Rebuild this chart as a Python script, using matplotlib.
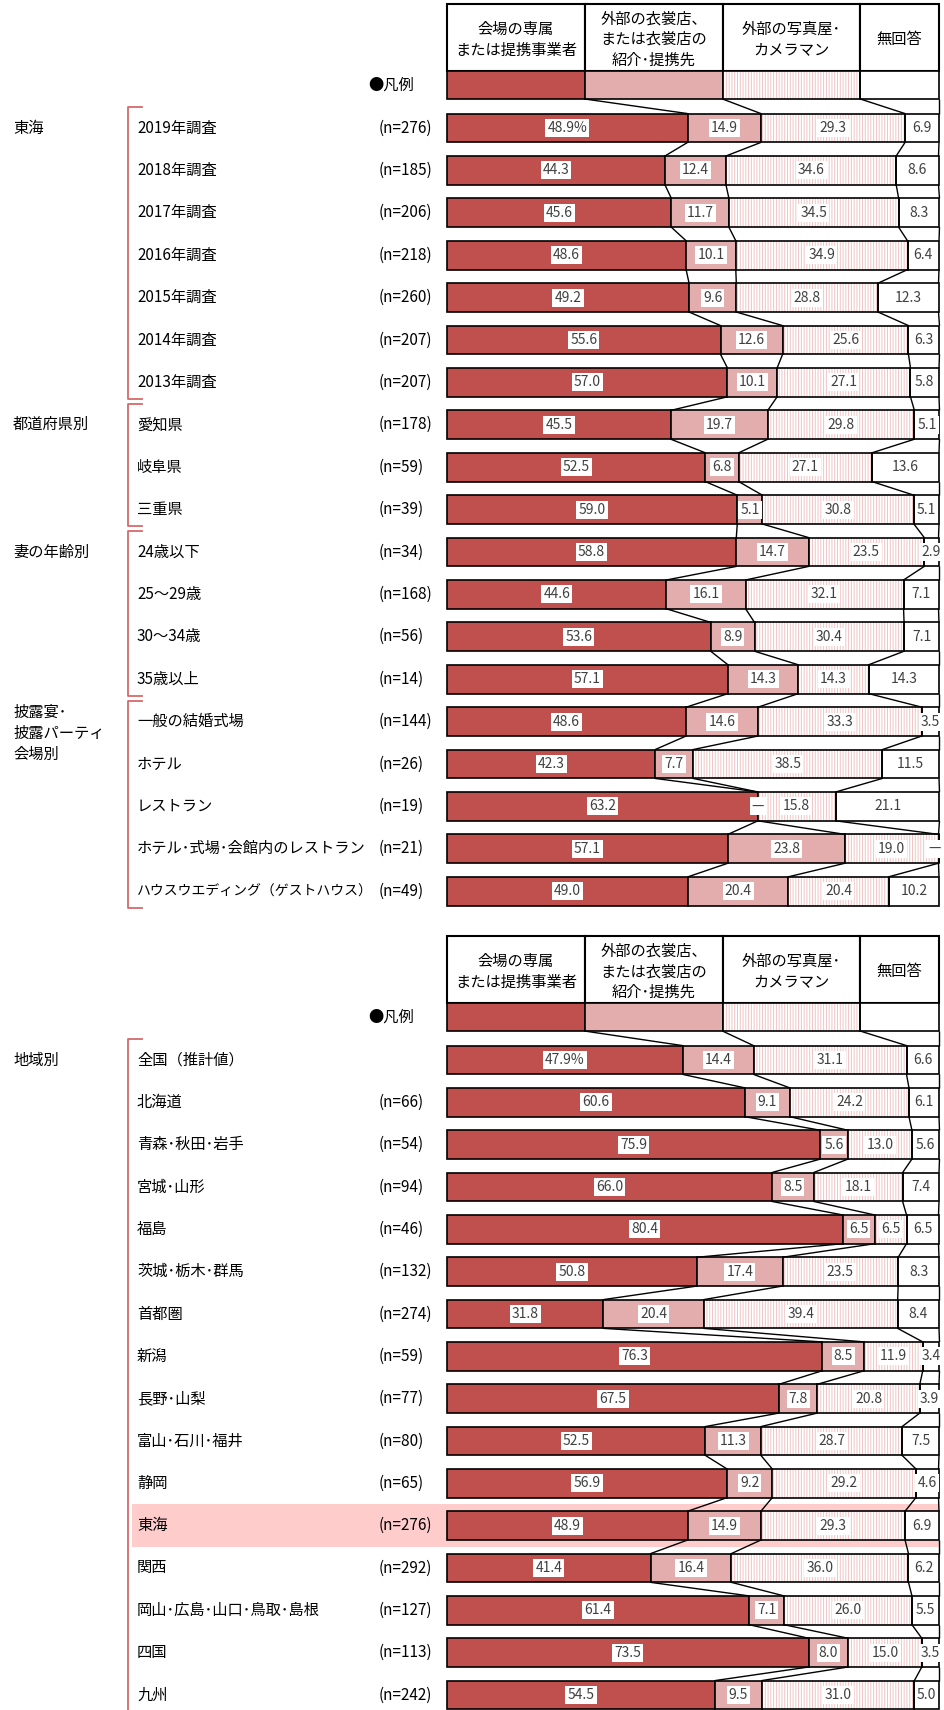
import matplotlib
matplotlib.use('Agg')
import matplotlib.pyplot as plt
import numpy as np

plt.rcParams['font.family'] = ['Noto Sans CJK JP', 'DejaVu Sans']
plt.rcParams['hatch.linewidth'] = 0.7

# ---------------- data ----------------
categories = ['会場の専属\nまたは提携事業者', '外部の衣裳店、\nまたは衣裳店の\n紹介･提携先',
              '外部の写真屋･\nカメラマン', '無回答']
legend_widths = [28, 28, 28, 16]

top_labels = ['2019年調査', '2018年調査', '2017年調査', '2016年調査', '2015年調査', '2014年調査',
              '2013年調査', '愛知県', '岐阜県', '三重県', '24歳以下', '25～29歳', '30～34歳',
              '35歳以上', '一般の結婚式場', 'ホテル', 'レストラン', 'ホテル･式場･会館内のレストラン',
              'ハウスウエディング（ゲストハウス）']
top_n = [276, 185, 206, 218, 260, 207, 207, 178, 59, 39, 34, 168, 56, 14, 144, 26, 19, 21, 49]
top_c1 = [48.9, 44.3, 45.6, 48.6, 49.2, 55.6, 57.0, 45.5, 52.5, 59.0, 58.8, 44.6, 53.6, 57.1,
          48.6, 42.3, 63.2, 57.1, 49.0]
top_c2 = [14.9, 12.4, 11.7, 10.1, 9.6, 12.6, 10.1, 19.7, 6.8, 5.1, 14.7, 16.1, 8.9, 14.3,
          14.6, 7.7, 0.0, 23.8, 20.4]
top_c3 = [29.3, 34.6, 34.5, 34.9, 28.8, 25.6, 27.1, 29.8, 27.1, 30.8, 23.5, 32.1, 30.4, 14.3,
          33.3, 38.5, 15.8, 19.0, 20.4]
top_c4 = [6.9, 8.6, 8.3, 6.4, 12.3, 6.3, 5.8, 5.1, 13.6, 5.1, 2.9, 7.1, 7.1, 14.3,
          3.5, 11.5, 21.1, 0.0, 10.2]
top_groups = [('東海', 0, 6), ('都道府県別', 7, 9), ('妻の年齢別', 10, 13),
              ('披露宴･\n披露パーティ\n会場別', 14, 18)]

bot_labels = ['全国（推計値）', '北海道', '青森･秋田･岩手', '宮城･山形', '福島', '茨城･栃木･群馬',
              '首都圏', '新潟', '長野･山梨', '富山･石川･福井', '静岡', '東海', '関西',
              '岡山･広島･山口･鳥取･島根', '四国', '九州']
bot_n = [None, 66, 54, 94, 46, 132, 274, 59, 77, 80, 65, 276, 292, 127, 113, 242]
bot_c1 = [47.9, 60.6, 75.9, 66.0, 80.4, 50.8, 31.8, 76.3, 67.5, 52.5, 56.9, 48.9, 41.4, 61.4, 73.5, 54.5]
bot_c2 = [14.4, 9.1, 5.6, 8.5, 6.5, 17.4, 20.4, 8.5, 7.8, 11.3, 9.2, 14.9, 16.4, 7.1, 8.0, 9.5]
bot_c3 = [31.1, 24.2, 13.0, 18.1, 6.5, 23.5, 39.4, 11.9, 20.8, 28.7, 29.2, 29.3, 36.0, 26.0, 15.0, 31.0]
bot_c4 = [6.6, 6.1, 5.6, 7.4, 6.5, 8.3, 8.4, 3.4, 3.9, 7.5, 4.6, 6.9, 6.2, 5.5, 3.5, 5.0]
bot_groups = [('地域別', 0, 15)]
bot_highlight = 11

# ---------------- style ----------------
RED = '#c0504d'
PINK2 = '#e4adad'
HATCH3 = '#f0c4c4'
BRACKET = '#d46a6a'
HILITE = '#ffcccc'
NUMC = '#404040'

W, H = 944, 1710
fig = plt.figure(figsize=(W / 100, H / 100), dpi=100)
X0, X1 = 447, 939


def px2x(px):
    return (px - X0) / (X1 - X0) * 100


def make_ax(top_px, bot_px, c0_px, row_px):
    ax = fig.add_axes([0, 1 - bot_px / H, 1, (bot_px - top_px) / H])
    ax.set_xlim(px2x(0), px2x(W))
    ax.set_ylim((bot_px - c0_px) / row_px, (top_px - c0_px) / row_px)
    ax.axis('off')
    return ax


BH = 0.68
HDR_TOP, HDR_BOT, LEG_BOT = -2.93, -1.345, -0.684


def seg(ax, y, w, left, h, k, z=2):
    if k == 2:
        ax.barh(y, w, left=left, height=h, color='white', hatch='||||||',
                edgecolor=HATCH3, linewidth=0, zorder=z)
        ax.barh(y, w, left=left, height=h, fill=False, edgecolor='black',
                linewidth=1.2, zorder=z + 0.1)
    else:
        fc = [RED, PINK2, None, 'white'][k]
        ax.barh(y, w, left=left, height=h, color=fc, edgecolor='black',
                linewidth=1.2, zorder=z)


def draw_panel(ax, labels, ns, vals, groups, highlight=None):
    n = len(labels)
    rows = np.arange(n)
    vals = np.array(vals, dtype=float)
    cums = np.cumsum(vals, axis=0)
    lefts = cums - vals

    # header
    lw = np.array(legend_widths, dtype=float)
    lcum = np.cumsum(lw)
    lleft = lcum - lw
    hc = (HDR_TOP + HDR_BOT) / 2
    ax.barh([hc] * 4, lw, left=lleft, height=HDR_BOT - HDR_TOP, color='white',
            edgecolor='black', linewidth=1.5, zorder=2)
    for k in range(4):
        ax.text(lleft[k] + lw[k] / 2, hc + 0.05, categories[k], ha='center', va='center',
                fontsize=11, linespacing=1.3, zorder=5)
    # legend row
    lc = (HDR_BOT + LEG_BOT) / 2
    for k in range(4):
        seg(ax, lc, lw[k], lleft[k], LEG_BOT - HDR_BOT, k)
    ax.text(px2x(368), lc, '●凡例', ha='left', va='center', fontsize=11)

    # highlight band
    if highlight is not None:
        ax.barh(highlight, 100 - px2x(132), left=px2x(132), height=1.0, color=HILITE,
                linewidth=0, zorder=0)

    # bars
    for k in range(4):
        for i in range(n):
            seg(ax, rows[i], vals[k, i], lefts[k, i], BH, k)

    # connectors
    prev_c, prev_b = lcum, LEG_BOT
    for i in range(n):
        for k in range(4):
            ax.plot([prev_c[k], cums[k, i]], [prev_b, i - BH / 2], color='black', lw=1.0,
                    zorder=3, solid_capstyle='butt')
        prev_c, prev_b = cums[:, i], i + BH / 2

    # value labels
    for i in range(n):
        for k in range(4):
            v = vals[k, i]
            if v == 0:
                xc = min(cums[k, i], 99.0)
                s = '—'
            else:
                xc = lefts[k, i] + v / 2
                s = f'{v:.1f}' + ('%' if (i == 0 and k == 0) else '')
            ax.text(xc, i, s, ha='center', va='center', fontsize=10, color=NUMC, zorder=6,
                    bbox=dict(boxstyle='square,pad=0.15', fc='white', ec='none'))

    # row labels
    for i in range(n):
        fs = 11 if len(labels[i]) < 17 else 10
        ax.text(px2x(137), i, labels[i], ha='left', va='center', fontsize=fs, zorder=5)
        if ns[i] is not None:
            ax.text(px2x(379), i, f'(n={ns[i]})', ha='left', va='center', fontsize=11, zorder=5)

    # groups and brackets
    xb, xt = px2x(128), px2x(142)
    for name, s, e in groups:
        t, b = s - 0.495, e + 0.39
        ax.plot([xt, xb, xb, xt], [t, t, b, b], color=BRACKET, lw=1.3, zorder=3)
        if '\n' in name:
            ax.text(px2x(13), s - 0.42, name, ha='left', va='top', fontsize=11, linespacing=1.3)
        else:
            ax.text(px2x(13), s, name, ha='left', va='center', fontsize=11)


ax1 = make_ax(0, 925, 128, 42.4)
draw_panel(ax1, top_labels, top_n, [top_c1, top_c2, top_c3, top_c4], top_groups)

ax2 = make_ax(925, 1710, 1060, 42.33)
draw_panel(ax2, bot_labels, bot_n, [bot_c1, bot_c2, bot_c3, bot_c4], bot_groups,
           highlight=bot_highlight)

fig.savefig('out.png', dpi=100, facecolor='white')
